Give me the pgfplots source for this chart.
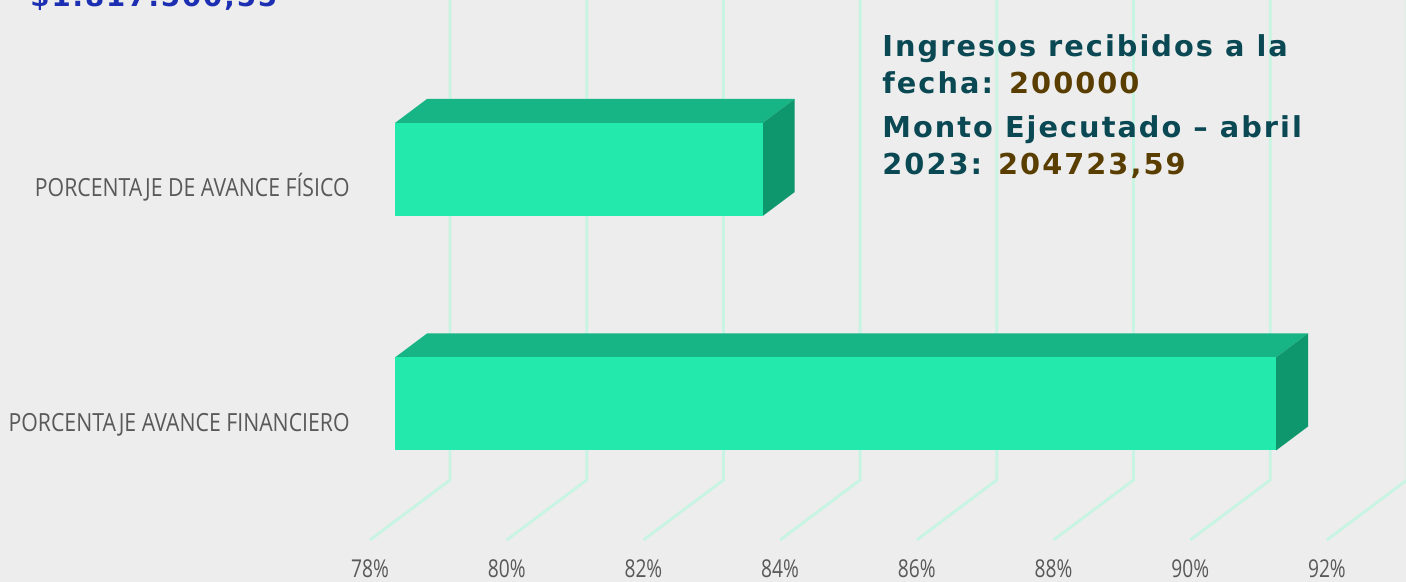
\documentclass[border=0pt]{standalone}
\usepackage{pgfplots}
\pgfplotsset{compat=1.18}
\usepackage{fontspec}
\setmainfont{DejaVu Sans}
\newfontfamily\labfont[FakeStretch=0.85]{Open Sans}
\newfontfamily\tickfont[FakeStretch=0.78]{Open Sans}
\newfontfamily\ttlfont[LetterSpace=7]{DejaVu Sans Bold}
\definecolor{bg}{RGB}{236,237,236}
\definecolor{barfront}{RGB}{35,233,173}
\definecolor{bartop}{RGB}{23,181,133}
\definecolor{barside}{RGB}{14,150,108}
\definecolor{gridc}{RGB}{200,244,227}
\definecolor{lab}{RGB}{89,89,89}
\definecolor{ttl}{RGB}{10,72,84}
\definecolor{num}{RGB}{90,62,0}
\definecolor{blu}{RGB}{28,46,178}
\begin{document}
\begin{tikzpicture}[x=1pt,y=1pt]
\path[use as bounding box] (0,0) rectangle (703,291);
\begin{axis}[at={(0,0)}, anchor=south west, scale only axis,
  width=703pt, height=291pt,
  xmin=72.2209, xmax=92.7915, ymin=0, ymax=582,
  axis line style={draw=none}, major tick length=0pt, tick style={draw=none},
  axis background/.style={fill=bg},
  xtick={77.634,79.634,81.634,83.634,85.634,87.634,89.634,91.634},
  xticklabels={78\%,80\%,82\%,84\%,86\%,88\%,90\%,92\%},
  xticklabel style={anchor=base, yshift=2pt, font=\tickfont\fontsize{12.3}{14}\selectfont, text=lab},
  ytick={178,412.5},
  yticklabels={PORCENTAJE AVANCE FINANCIERO, PORCENTAJE DE AVANCE FÍSICO},
  yticklabel style={anchor=base east, inner sep=0pt, xshift=175pt, yshift=-13.75pt, font=\labfont\fontsize{12.5}{14}\selectfont, text=lab},
  clip=false]
% grid lines (back wall + floor)
\addplot[gridc, line width=1.4pt] coordinates {(78.805,582)(78.805,102)(77.634,42)};
\addplot[gridc, line width=1.4pt] coordinates {(80.805,582)(80.805,102)(79.634,42)};
\addplot[gridc, line width=1.4pt] coordinates {(82.805,582)(82.805,102)(81.634,42)};
\addplot[gridc, line width=1.4pt] coordinates {(84.805,582)(84.805,102)(83.634,42)};
\addplot[gridc, line width=1.4pt] coordinates {(86.805,582)(86.805,102)(85.634,42)};
\addplot[gridc, line width=1.4pt] coordinates {(88.805,582)(88.805,102)(87.634,42)};
\addplot[gridc, line width=1.4pt] coordinates {(90.805,582)(90.805,102)(89.634,42)};
\addplot[gridc, line width=1.4pt] coordinates {(92.805,582)(92.805,102)(91.634,42)};
% bar: PORCENTAJE DE AVANCE FISICO = 83.38
\addplot[fill=bartop, draw=none] coordinates {(78,459)(83.38,459)(83.848,483)(78.468,483)} --cycle;
\addplot[fill=barside, draw=none] coordinates {(83.38,366)(83.848,390)(83.848,483)(83.38,459)} --cycle;
\addplot[fill=barfront, draw=none] coordinates {(78,366)(83.38,366)(83.38,459)(78,459)} --cycle;
% bar: PORCENTAJE AVANCE FINANCIERO = 90.89
\addplot[fill=bartop, draw=none] coordinates {(78,224.5)(90.89,224.5)(91.358,248.5)(78.468,248.5)} --cycle;
\addplot[fill=barside, draw=none] coordinates {(90.89,131.5)(91.358,155.5)(91.358,248.5)(90.89,224.5)} --cycle;
\addplot[fill=barfront, draw=none] coordinates {(78,131.5)(90.89,131.5)(90.89,224.5)(78,224.5)} --cycle;
% texts
\node[anchor=base west, inner sep=0pt, text=blu, font=\ttlfont\fontsize{13.8}{16}\selectfont] at (axis cs:72.66,575) {\$1.817.500,55};
\node[anchor=base west, inner sep=0pt, text=ttl, font=\ttlfont\fontsize{14.4}{16}\selectfont] at (axis cs:85.125,525) {Ingresos recibidos a la};
\node[anchor=base west, inner sep=0pt, text=ttl, font=\ttlfont\fontsize{14.4}{16}\selectfont] at (axis cs:85.125,488) {fecha: \textcolor{num}{200000}};
\node[anchor=base west, inner sep=0pt, text=ttl, font=\ttlfont\fontsize{14.4}{16}\selectfont] at (axis cs:85.125,444) {Monto Ejecutado – abril};
\node[anchor=base west, inner sep=0pt, text=ttl, font=\ttlfont\fontsize{14.4}{16}\selectfont] at (axis cs:85.125,407) {2023: \textcolor{num}{204723,59}};
\end{axis}
\end{tikzpicture}
\end{document}
